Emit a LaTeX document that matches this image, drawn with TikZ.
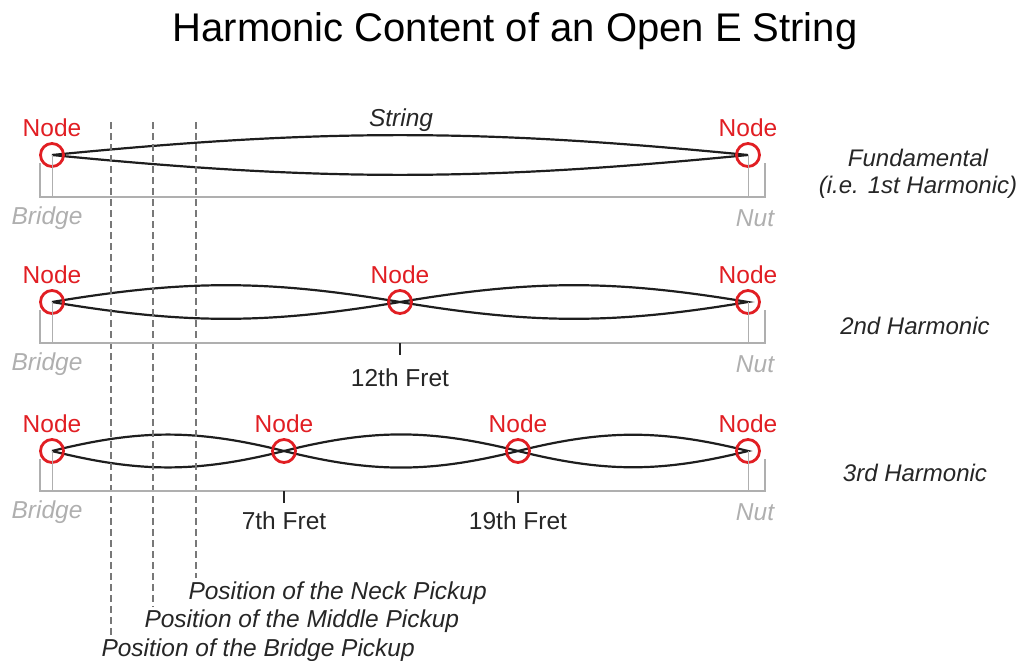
\documentclass[tikz,border=0pt]{standalone}
\usepackage{fontspec}
\setmainfont{Liberation Sans}
\usepackage{tikz}
\usetikzlibrary{positioning, calc, backgrounds}
\definecolor{nodered}{RGB}{225,30,35}
\definecolor{framegray}{RGB}{175,175,175}
\definecolor{stringgray}{RGB}{30,30,30}
\definecolor{dashgray}{RGB}{120,120,120}

% one vibrating loop between two string nodes: top and bottom half
\newcommand{\stringloop}[3]{%
  \draw[vib] (#1.center) to[out=#3,in=180-#3] (#2.center)
    to[out=180+#3,in=-#3] (#1.center);}

\begin{document}
\begin{tikzpicture}[x=1pt, y=1pt,
    txt/.style={font=\fontsize{24.5}{28}\selectfont, text=black!85},
    ring/.style={circle, draw=nodered, line width=2.8pt, minimum size=23pt, inner sep=0pt,
      label={[font=\fontsize{24.5}{28}\selectfont, text=nodered, label distance=2pt]above:Node}},
    vib/.style={draw=stringgray, line width=2.2pt},
    frame/.style={draw=framegray, line width=2pt},
    drop/.style={draw=framegray, line width=1pt},
    tick/.style={draw=black!85, line width=1.6pt},
    pickup/.style={draw=dashgray, line width=1.5pt, dash pattern=on 7pt off 4pt},
    endlabel/.style={txt, font=\fontsize{24.5}{28}\selectfont\itshape, text=framegray},
    harm/.style={txt, font=\fontsize{24}{27}\selectfont\itshape, align=center}]
    \useasboundingbox (0,0) rectangle (1020,-661);

    % Title
    \node[font=\fontsize{40}{46}\selectfont] (title) at (515,-31) {Harmonic Content of an Open E String};

    % Pickup positions
    \node[txt, font=\fontsize{24.5}{28}\selectfont\itshape, anchor=west] (neck) at (185,-593) {Position of the Neck Pickup};
    \node[txt, font=\fontsize{24.5}{28}\selectfont\itshape, anchor=west] (middle) at (141,-621) {Position of the Middle Pickup};
    \node[txt, font=\fontsize{24.5}{28}\selectfont\itshape, anchor=west] (bridgepu) at (98,-650) {Position of the Bridge Pickup};
    \coordinate (necktop) at (196,-122);
    \coordinate (middletop) at (153,-122);
    \coordinate (bridgetop) at (111,-122);
    \draw[pickup] (necktop) -- (necktop |- neck.north);
    \draw[pickup] (middletop) -- (middletop |- middle.north);
    \draw[pickup] (bridgetop) -- (bridgetop |- bridgepu.north);

    % Fundamental
    \node[ring] (a1) at (52,-155) {};
    \node[ring] (b1) at (748,-155) {};
    \node[txt, font=\fontsize{24.5}{28}\selectfont\itshape] (strlabel) at (401,-120) {String};
    \node[harm] (h1) at (918,-174) {Fundamental\\(i.e. 1st Harmonic)};

    % 2nd harmonic
    \node[ring] (a2) at (52,-302) {};
    \node[ring] (m2) at (400,-302) {};
    \node[ring] (b2) at (748,-302) {};
    \node[harm] (h2) at (915,-326) {2nd Harmonic};

    % 3rd harmonic
    \node[ring] (a3) at (52,-451) {};
    \node[ring] (p3) at (284,-451) {};
    \node[ring] (q3) at (518,-451) {};
    \node[ring] (b3) at (748,-451) {};
    \node[harm] (h3) at (915,-473) {3rd Harmonic};

    % Bridge / nut frames
    \foreach \row/\sy/\fy in {1/-163/-197, 2/-310/-343, 3/-459/-491} {
        \draw[frame] (40,\sy) |- (765,\fy) -- (765,\sy);
        \draw[drop] (a\row.center) -- (a\row.center |- 0,\fy);
        \draw[drop] (b\row.center) -- (b\row.center |- 0,\fy);
        \node[endlabel] (bridge\row) at (47,\fy-21) {Bridge};
        \node[endlabel] (nut\row) at (755,\fy-21) {Nut};
    }

    % Frets
    \draw[tick] (m2.center |- 0,-343) -- ++(0,-12);
    \draw[tick] (p3.center |- 0,-491) -- ++(0,-12);
    \draw[tick] (q3.center |- 0,-491) -- ++(0,-12);
    \node[txt] (fret12) at (400,-378) {12th Fret};
    \node[txt] (fret7) at (284,-521) {7th Fret};
    \node[txt] (fret19) at (518,-521) {19th Fret};

    % Vibrating string
    \begin{scope}[on background layer]
        \stringloop{a1}{b1}{5.6}
        \stringloop{a2}{m2}{9.5}
        \stringloop{m2}{b2}{9.5}
        \stringloop{a3}{p3}{14}
        \stringloop{p3}{q3}{14}
        \stringloop{q3}{b3}{14}
    \end{scope}
\end{tikzpicture}
\end{document}
